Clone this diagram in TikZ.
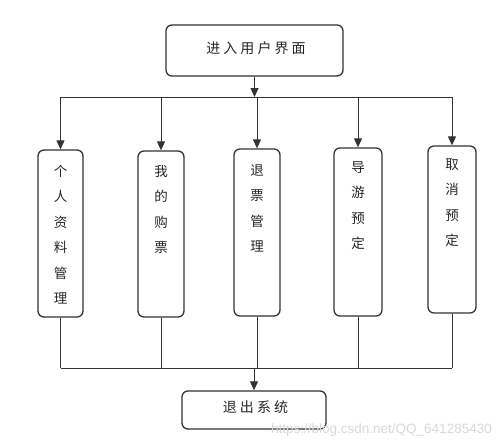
\documentclass[tikz,border=0pt]{standalone}
\usepackage{fontspec}
\newfontfamily\cjk{Noto Sans CJK SC}
\newfontfamily\cjkwide{Noto Sans CJK SC}[LetterSpace=22]
\newfontfamily\wmfont{Liberation Sans}
\usetikzlibrary{arrows.meta,positioning}
\tikzset{
  box/.style={draw=black!80, line width=1.3pt, rounded corners=6pt, inner sep=0pt},
  vtext/.style={anchor=north, inner sep=0pt, align=center, text=black!85, font={\cjk\fontsize{13.5}{25.5}\selectfont}},
  htext/.style={text=black!85, inner sep=0pt, font={\cjkwide\fontsize{14}{16}\selectfont}},
  conn/.style={draw=black!80, line width=1pt},
  arr/.style={conn, -{Triangle[width=8pt,length=9pt]}},
}
\begin{document}
\begin{tikzpicture}[x=1pt,y=-1pt]
\useasboundingbox (0,0) rectangle (500,447);
% top
\node[box, minimum width=177pt, minimum height=51pt] (top) at (254.5,50.5) {};
\node[htext] (toptext) at ([xshift=1.5pt,yshift=2pt]top.center) {进入用户界面};
% boxes
\node[box, minimum width=45pt, minimum height=167pt] (b1) at (60.5,233.5) {};
\node[box, minimum width=46pt, minimum height=166pt] (b2) at (161,234) {};
\node[box, minimum width=46pt, minimum height=167pt] (b3) at (257,232.5) {};
\node[box, minimum width=48pt, minimum height=168pt] (b4) at (358,232) {};
\node[box, minimum width=48pt, minimum height=167pt] (b5) at (452,229.5) {};
\node[vtext] (t1) at ([yshift=-15.5pt]b1.north) {个\\人\\资\\料\\管\\理};
\node[vtext] (t2) at ([yshift=-14.5pt]b2.north) {我\\的\\购\\票};
\node[vtext] (t3) at ([yshift=-16pt]b3.north) {退\\票\\管\\理};
\node[vtext] (t4) at ([yshift=-14pt]b4.north) {导\\游\\预\\定};
\node[vtext] (t5) at ([yshift=-13pt]b5.north) {取\\消\\预\\定};
% bottom
\node[box, minimum width=144pt, minimum height=38pt] (bot) at (254,410) {};
\node[htext] (bottext) at ([xshift=1.5pt,yshift=3pt]bot.center) {退出系统};
% buses
\coordinate (busT) at (0,97);
\coordinate (busB) at (0,368);
\draw[arr] (top.south) -- (top.south |- busT);
\draw[conn] (b1.north |- busT) -- (b5.north |- busT);
\foreach \b in {b1,b2,b3,b4,b5}{
  \draw[arr] (\b.north |- busT) -- (\b.north);
  \draw[conn] (\b.south) -- (\b.south |- busB);
}
\draw[conn] (b1.south |- busB) -- (b5.south |- busB);
\draw[arr] (bot.north |- busB) -- (bot.north);
% watermark
\node[text=black!15, font={\wmfont\fontsize{13.5}{16}\selectfont}, anchor=east, inner sep=0pt] (wm) at (492,430) {https://blog.csdn.net/QQ\_641285430};
\end{tikzpicture}
\end{document}
